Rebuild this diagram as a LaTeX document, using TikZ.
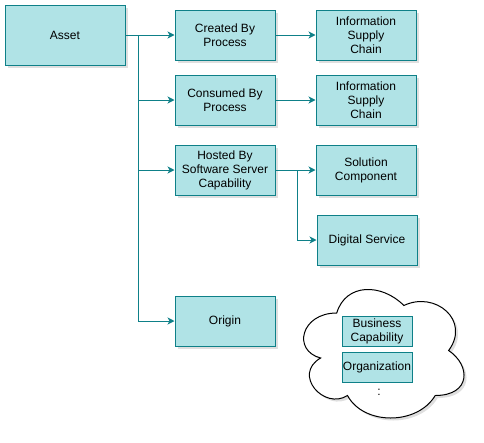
\documentclass[tikz,border=0pt]{standalone}
\usepackage{fontspec}
\setmainfont{Liberation Sans}
\usetikzlibrary{arrows.meta,shadows}
\definecolor{boxfill}{HTML}{B0E3E6}
\definecolor{boxline}{HTML}{0E8088}
\begin{document}
\begin{tikzpicture}[x=1pt,y=-1pt,
  box/.style={draw=boxline,fill=boxfill,line width=1pt,minimum width=100pt,minimum height=50pt,
    inner sep=0pt,align=center,font=\fontsize{12}{14}\selectfont,
    drop shadow={shadow xshift=2.5pt,shadow yshift=-2.5pt,opacity=0.25}},
  smallbox/.style={draw=boxline,fill=boxfill,line width=1pt,minimum width=70pt,minimum height=30pt,
    inner sep=0pt,align=center,font=\fontsize{12}{14}\selectfont},
  arr/.style={draw=boxline,line width=1pt,-{Stealth[length=7pt,width=7pt,inset=2pt]}},
  cloudline/.style={draw=black,fill=white,line width=1pt,
    drop shadow={shadow xshift=2.5pt,shadow yshift=-2.5pt,opacity=0.25}}]
\useasboundingbox (0,0) rectangle (484,442);
\node[box,minimum width=120pt,minimum height=60pt] (asset) at (65,35) {Asset};
\node[box] (created) at (225,35) {Created By\\Process};
\node[box] (isc1) at (366,35) {Information\\Supply\\Chain};
\node[box] (consumed) at (225,100) {Consumed By\\Process};
\node[box] (isc2) at (366,100) {Information\\Supply\\Chain};
\node[box] (hosted) at (225,170) {Hosted By\\Software Server\\Capability};
\node[box] (solution) at (366,170) {Solution\\Component};
\node[box] (digital) at (367,240) {Digital Service};
\node[box] (origin) at (225,321) {Origin};
% cloud
\begin{scope}[shift={(292,275.5)},x=179pt,y=-150pt]
\path[cloudline] (0.25,0.25) .. controls (0.05,0.25) and (0,0.5) .. (0.16,0.55)
  .. controls (0,0.66) and (0.18,0.9) .. (0.31,0.8)
  .. controls (0.4,1) and (0.7,1) .. (0.8,0.8)
  .. controls (1,0.8) and (1,0.6) .. (0.875,0.5)
  .. controls (1,0.3) and (0.8,0.1) .. (0.625,0.2)
  .. controls (0.5,0.05) and (0.3,0.05) .. (0.25,0.25) -- cycle;
\end{scope}
\node[smallbox] (bizcap) at (377,331) {Business\\Capability};
\node[smallbox] (org) at (377,367) {Organization};
\node[font=\fontsize{12}{14}\selectfont,inner sep=0pt] (dots) at (379,392) {:};
% connectors
\coordinate (trunk) at (138,35);
\draw[arr] (asset.east) -- (created.west);
\draw[arr] (trunk) |- (consumed.west);
\draw[arr] (trunk) |- (hosted.west);
\draw[arr] (trunk) |- (origin.west);
\draw[arr] (created.east) -- (isc1.west);
\draw[arr] (consumed.east) -- (isc2.west);
\coordinate (htrunk) at (297,170);
\draw[arr] (hosted.east) -- (solution.west);
\draw[arr] (htrunk) |- (digital.west);
\end{tikzpicture}
\end{document}
